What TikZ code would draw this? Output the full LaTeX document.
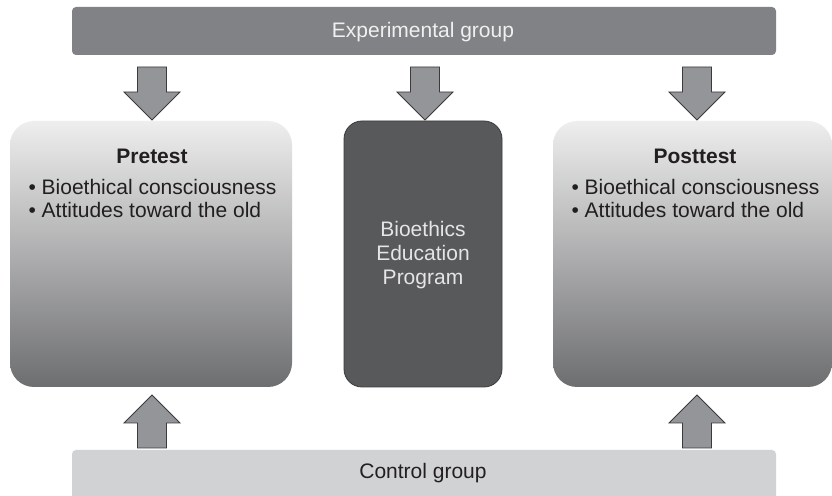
\documentclass[tikz,border=0pt]{standalone}
\usepackage{fontspec}
\setmainfont{Liberation Sans}
\usetikzlibrary{calc}
\definecolor{expbar}{HTML}{808285}
\definecolor{ctlbar}{HTML}{D1D2D4}
\definecolor{arrowfill}{HTML}{939598}
\definecolor{darkline}{HTML}{3A3A3C}
\definecolor{progfill}{HTML}{58595B}
\definecolor{boxtop}{HTML}{EEEEEE}
\definecolor{boxbot}{HTML}{6D6E70}
\definecolor{txt}{HTML}{231F20}
\tikzset{
  bar/.style={rectangle, rounded corners=4pt, inner sep=0pt, minimum width=704pt},
  testbox/.style={rectangle, rounded corners=24pt, inner sep=0pt, minimum height=266pt,
    top color=boxtop, bottom color=boxbot, draw=none},
  progbox/.style={rectangle, rounded corners=18pt, inner sep=0pt, minimum width=158pt,
    minimum height=266pt, fill=progfill, draw=darkline, line width=0.8pt},
  blockarrow/.style={draw=darkline, fill=arrowfill, line width=0.8pt, line join=miter},
  bodytext/.style={font=\fontsize{21}{23}\selectfont, text=txt},
  bartext/.style={font=\fontsize{21}{24}\selectfont},
}
% down arrow from top-centre point #1
\newcommand{\downarrowshape}[1]{%
  \draw[blockarrow] ($(#1)+(-14.5,0)$) -- ++(29,0) -- ++(0,-25) -- ++(13.5,0)
    -- ($(#1)+(0,-53)$) -- ($(#1)+(-28,-25)$) -- ++(13.5,0) -- cycle;}
% up arrow from bottom-centre point #1
\newcommand{\uparrowshape}[1]{%
  \draw[blockarrow] ($(#1)+(-14.5,0)$) -- ++(29,0) -- ++(0,25) -- ++(13.5,0)
    -- ($(#1)+(0,53)$) -- ($(#1)+(-28,25)$) -- ++(13.5,0) -- cycle;}
\begin{document}
\begin{tikzpicture}[x=1pt,y=1pt]
\useasboundingbox (0,0) rectangle (832,495);
\clip (0,0) rectangle (832,495);
\fill[white] (0,0) rectangle (832,495);
% group bars
\node[bar, fill=expbar, minimum height=48pt] (exp) at (424,464) {};
\node[bartext, text=white!94!black] (exptext) at (423,462.5) {Experimental group};
\node[bar, fill=ctlbar, minimum height=51pt] (ctl) at (424,19.5) {};
\node[bartext, text=txt] (ctltext) at (423,22) {Control group};
% boxes
\node[testbox, minimum width=282pt] (pre) at (151,241) {};
\node[progbox] (prog) at (423,241) {};
\node[testbox, minimum width=279pt] (post) at (692.5,241) {};
% texts
\node[bodytext, font=\bfseries\fontsize{21}{23}\selectfont] (pretitle) at (152,339) {Pretest};
\node[bodytext, anchor=west, align=left] (prelist) at (25,296.5)
  {• Bioethical consciousness\\• Attitudes toward the old};
\node[bodytext, font=\bfseries\fontsize{21}{23}\selectfont] (posttitle) at (695,339) {Posttest};
\node[bodytext, anchor=west, align=left] (postlist) at (568,296.5)
  {• Bioethical consciousness\\• Attitudes toward the old};
\node[font=\fontsize{21}{24}\selectfont, text=white!90!black, align=center] (progtext) at (423,240)
  {Bioethics\\Education\\Program};
% arrows
\coordinate (d1) at (152,428);
\coordinate (d2) at (425,428);
\coordinate (d3) at (697,428);
\coordinate (u1) at (152,47);
\coordinate (u2) at (697,47);
\downarrowshape{d1}
\downarrowshape{d2}
\downarrowshape{d3}
\uparrowshape{u1}
\uparrowshape{u2}
\end{tikzpicture}
\end{document}
